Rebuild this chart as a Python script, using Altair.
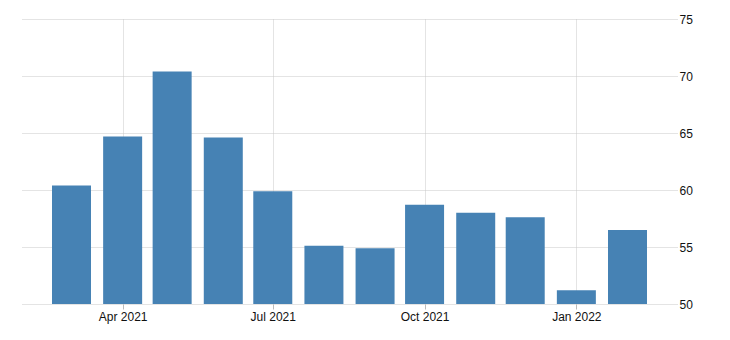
import altair as alt
import pandas as pd

months = ["2021-03-01", "2021-04-01", "2021-05-01", "2021-06-01", "2021-07-01", "2021-08-01",
          "2021-09-01", "2021-10-01", "2021-11-01", "2021-12-01", "2022-01-01", "2022-02-01"]
values = [60.4, 64.7, 70.4, 64.6, 59.9, 55.1, 54.9, 58.7, 58.0, 57.6, 51.2, 56.5]

y_ticks = [50, 55, 60, 65, 70, 75]
x_ticks = ["2021-04-01", "2021-07-01", "2021-10-01", "2022-01-01"]
x_domain = ["2021-01-30", "2022-03-03"]
base_value = 50

df = pd.DataFrame({"date": months, "value": values})

font = "Liberation Sans"

chart = alt.Chart(df).mark_bar(size=39, color="#4682B4").encode(
    x=alt.X(
        "date:T",
        scale=alt.Scale(type="utc", domain=x_domain, nice=False, padding=0),
        axis=alt.Axis(
            title=None, values=x_ticks, format="%b %Y", domain=False,
            grid=True, gridColor="#c8c8c8", gridDash=[1, 1], gridWidth=1,
            tickColor="#bbbbbb", tickSize=5, labelPadding=2,
            labelFont=font, labelFontSize=12, labelColor="#111111",
        ),
    ),
    y=alt.Y(
        "value:Q",
        scale=alt.Scale(domain=[50, 75], nice=False, zero=False),
        axis=alt.Axis(
            title=None, orient="right", values=y_ticks, domain=False, ticks=False,
            tickSize=0, labelPadding=2, grid=True, gridColor="#c8c8c8",
            gridDash=[1, 1], gridWidth=1, labelFont=font, labelFontSize=12,
            labelColor="#111111",
        ),
    ),
    y2=alt.datum(base_value),
).properties(
    width=655,
    height=285,
    autosize=alt.AutoSizeParams(type="none"),
    padding={"left": 22, "top": 19, "right": 53, "bottom": 36},
).configure_view(stroke=None)

chart.save("out.html", embed_options={"renderer": "svg", "actions": False})
